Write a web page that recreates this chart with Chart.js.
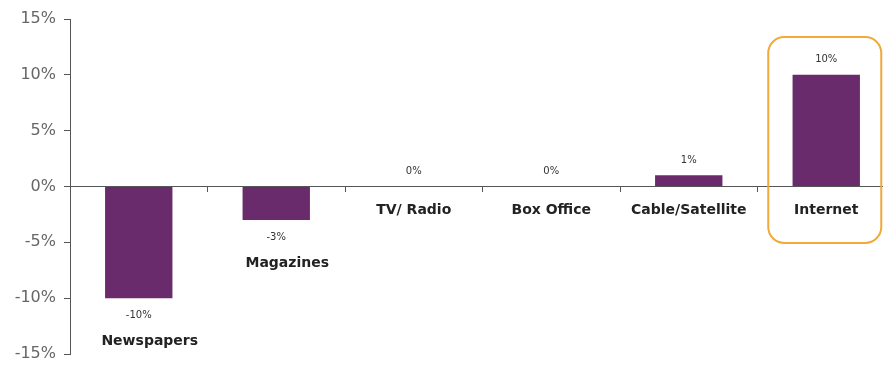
<!DOCTYPE html>
<html>
<head>
<meta charset="utf-8">
<script src="https://cdn.jsdelivr.net/npm/chart.js@4"></script>
<style>
  html, body { margin: 0; padding: 0; background: #fff; overflow: hidden; }
  #wrap { width: 883px; height: 367px; overflow: hidden; }
</style>
</head>
<body>
<div id="wrap"><canvas id="chart" width="900" height="367"></canvas></div>
<script>
// data
const categories = ["Newspapers", "Magazines", "TV/ Radio", "Box Office", "Cable/Satellite", "Internet"];
const growth = [-10, -3, 0, 0, 1, 10];
const valueLabels = ["-10%", "-3%", "0%", "0%", "1%", "10%"];
const highlighted = "Internet";

const purple = "#6a2b6c";
const axisGray = "#555";

// value + category labels under / over each bar
const barLabels = {
    id: "barLabels",
    afterDatasetsDraw(chart) {
        let ctx = chart.ctx;
        let meta = chart.getDatasetMeta(0);
        let y0 = chart.scales.y.getPixelForValue(0);
        ctx.save();
        ctx.textAlign = "center";
        ctx.textBaseline = "middle";
        meta.data.forEach((bar, i) => {
            let v = growth[i];
            ctx.fillStyle = "#333";
            ctx.font = "10px 'DejaVu Sans'";
            if (v < 0) {
                ctx.fillText(valueLabels[i], bar.x, bar.y + 17);
                ctx.font = "bold 14px 'DejaVu Sans'";
                ctx.fillStyle = "#222";
                // these sit a little right of the bar in the original
                ctx.fillText(categories[i], bar.x + 11, bar.y + 43);
            } else {
                ctx.fillText(valueLabels[i], bar.x, bar.y - 15);
                ctx.font = "bold 14px 'DejaVu Sans'";
                ctx.fillStyle = "#222";
                ctx.fillText(categories[i], bar.x, y0 + 24);
            }
        });
        ctx.restore();
    }
};

// orange rounded box round the highlighted category
const highlightBox = {
    id: "highlightBox",
    afterDraw(chart) {
        let ctx = chart.ctx;
        let x = chart.scales.x.getPixelForValue(categories.indexOf(highlighted));
        let left = x - 58, right = x + 55;
        let top = 37, bottom = 243, r = 16;
        ctx.save();
        ctx.strokeStyle = "#f2a93b";
        ctx.lineWidth = 2;
        ctx.beginPath();
        ctx.roundRect(left, top, right - left, bottom - top, r);
        ctx.stroke();
        ctx.restore();
    }
};

new Chart(document.getElementById("chart"), {
    type: "bar",
    data: {
        labels: categories,
        datasets: [{
            data: growth,
            backgroundColor: purple,
            barPercentage: 0.49,
            categoryPercentage: 1
        }]
    },
    options: {
        responsive: false,
        animation: false,
        layout: { padding: { top: 19, bottom: 13, right: 5, left: 0 } },
        plugins: { legend: { display: false }, tooltip: { enabled: false } },
        scales: {
            x: {
                position: { y: 0 },
                grid: { drawOnChartArea: false, tickLength: 5, color: axisGray, offset: true },
                border: { color: axisGray, width: 1 },
                ticks: { display: false }
            },
            y: {
                min: -15,
                max: 15,
                afterFit(scale) {
                    scale.width = 70;
                    scale.paddingTop = 0;
                    scale.paddingBottom = 0;
                },
                grid: { drawOnChartArea: false, tickLength: 6, color: axisGray },
                border: { color: axisGray, width: 1 },
                ticks: {
                    stepSize: 5,
                    padding: 8,
                    color: "#666",
                    font: { family: "'DejaVu Sans'", size: 16 },
                    callback: v => v + "%"
                }
            }
        }
    },
    plugins: [barLabels, highlightBox]
});
</script>
</body>
</html>
